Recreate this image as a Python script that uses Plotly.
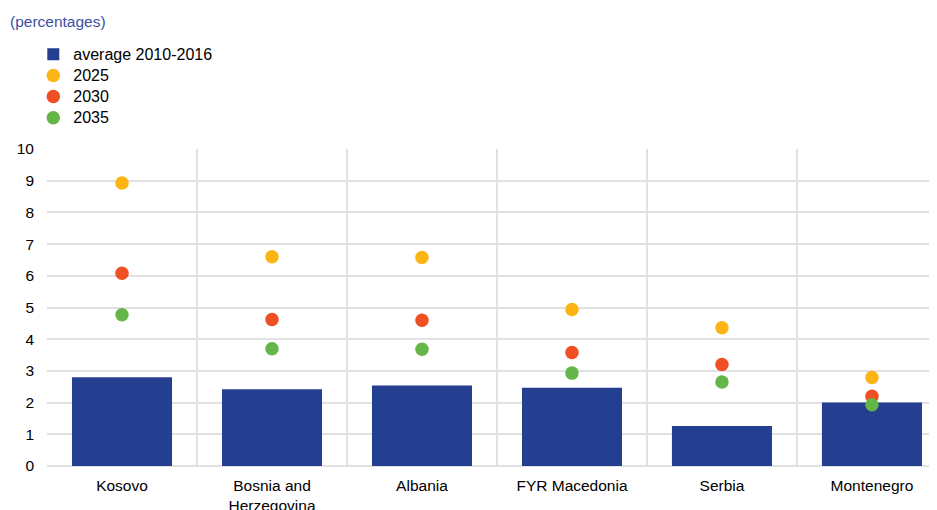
import plotly.graph_objects as go

categories = ["Kosovo", "Bosnia and<br>Herzegovina", "Albania", "FYR Macedonia", "Serbia", "Montenegro"]
avg_2010_2016 = [2.80, 2.42, 2.54, 2.47, 1.26, 2.00]
y2025 = [8.93, 6.60, 6.58, 4.94, 4.36, 2.79]
y2030 = [6.08, 4.62, 4.60, 3.58, 3.20, 2.20]
y2035 = [4.77, 3.70, 3.68, 2.93, 2.65, 1.93]
y_ticks = [0, 1, 2, 3, 4, 5, 6, 7, 8, 9, 10]
legend_names = ["average 2010-2016", "2025", "2030", "2035"]

idx = list(range(len(categories)))
boundaries = [i - 0.5 for i in idx] + [len(categories) - 0.5]

FONT = "Arial, Liberation Sans, sans-serif"
GRID = "#e1e1e1"
XR = [-0.5, 5.487]
ML, MT, MB, W, H = 39, 141, 52, 937, 510
PW, PH = W - ML, H - MT - MB


def big(t):
    return '<span style="font-size:16px">' + t + "</span>"


fig = go.Figure()
fig.add_trace(go.Bar(x=idx, y=avg_2010_2016, name=big(legend_names[0]),
                     marker=dict(color="#243e90", line=dict(width=0)), width=0.667))
for vals, name, col in [(y2025, legend_names[1], "#fdb515"),
                        (y2030, legend_names[2], "#f04e23"),
                        (y2035, legend_names[3], "#63b647")]:
    fig.add_trace(go.Scatter(x=idx, y=vals, name=big(name), mode="markers",
                             marker=dict(color=col, size=13.5, line=dict(width=0))))

# invisible trace on secondary x-axis for category boundary gridlines
fig.add_trace(go.Scatter(x=boundaries, y=[None] * len(boundaries), xaxis="x2",
                         showlegend=False, hoverinfo="skip"))

fig.update_layout(
    width=W, height=H,
    margin=dict(l=ML, r=0, t=MT, b=MB, autoexpand=False),
    plot_bgcolor="white", paper_bgcolor="white",
    font=dict(family=FONT, size=15.5, color="black"),
    showlegend=True,
    legend=dict(xref="container", yref="container", x=0.027, y=0.940,
                xanchor="left", yanchor="top", font=dict(size=14),
                tracegroupgap=0, itemwidth=30, bgcolor="rgba(0,0,0,0)"),
    xaxis=dict(range=XR, tickvals=idx, ticktext=categories,
               showgrid=False, zeroline=False, showline=False, ticks="",
               ticklabelstandoff=8, tickfont=dict(size=15.5)),
    xaxis2=dict(range=XR, overlaying="x", tickvals=boundaries,
                showticklabels=False, showgrid=True, gridcolor=GRID, gridwidth=1.5,
                zeroline=False, ticks=""),
    yaxis=dict(range=[0, 10], tickvals=y_ticks, showgrid=True, gridcolor=GRID,
               gridwidth=1.5, zeroline=True, zerolinecolor=GRID, zerolinewidth=1.5,
               ticks="", ticklabelstandoff=12, tickfont=dict(size=15.5)),
    bargap=0.333,
)

fig.add_annotation(text="(percentages)", xref="paper", yref="paper",
                   x=(0 - ML) / PW, y=1 + (MT - 13) / PH, xanchor="left", yanchor="middle",
                   showarrow=False, font=dict(size=15.5, color="#3c4fa3", family=FONT))

fig.write_html("out.html")
